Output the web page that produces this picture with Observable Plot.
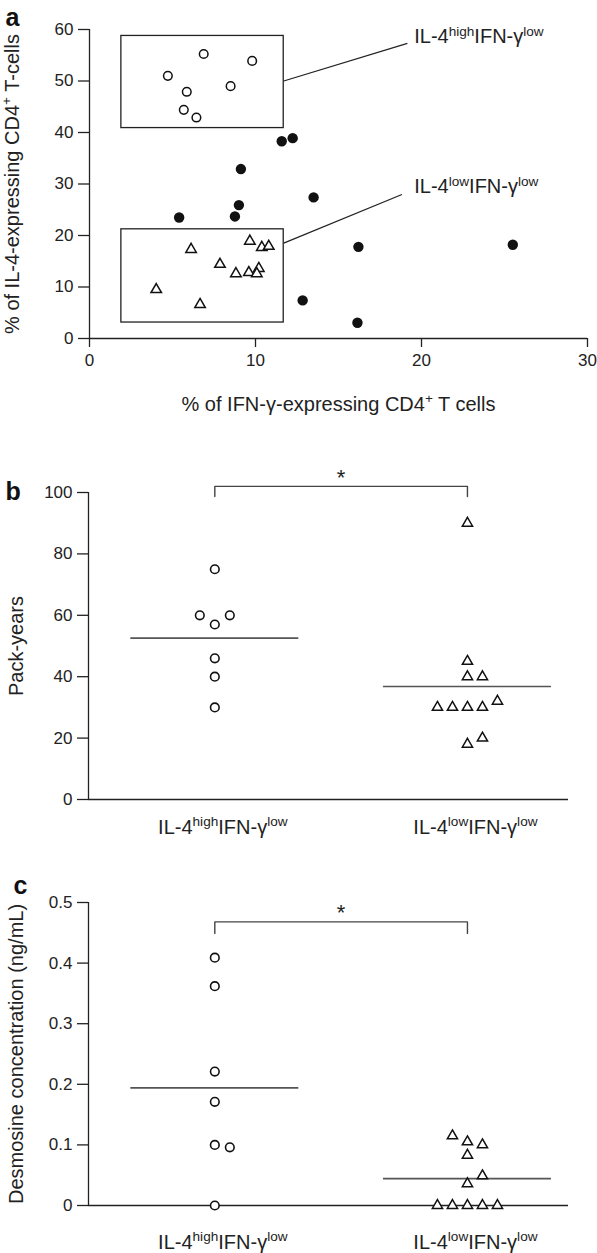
<!DOCTYPE html>
<html><head><meta charset="utf-8">
<script src="https://cdn.jsdelivr.net/npm/d3@7"></script>
<script src="https://cdn.jsdelivr.net/npm/@observablehq/plot@0.6"></script>
<style>
html,body{margin:0;padding:0;background:#fff;}
#wrap{width:597px;height:1253px;position:relative;overflow:hidden;}
#wrap .panel{position:absolute;left:0;}
#wrap svg{display:block;overflow:visible;}
</style></head><body><div id="wrap"></div>
<script>
// ---------- Panel a: % IFN-γ (x) vs % IL-4 (y) expressing CD4+ T cells ----------
const highIFN = [4.72, 6.88, 9.80, 5.86, 8.50, 5.68, 6.44];
const highIL4 = [51.0, 55.25, 53.9, 47.9, 49.0, 44.4, 42.9];
const lowIFN  = [9.66, 10.38, 10.8, 6.12, 7.86, 10.2, 9.6, 8.82, 10.08, 4.02, 6.66];
const lowIL4  = [18.9, 17.7, 17.9, 17.3, 14.4, 13.6, 12.8, 12.6, 12.6, 9.5, 6.6];
const otherIFN = [11.58, 12.24, 9.12, 13.5, 9.0, 8.76, 5.4, 12.84, 16.2, 25.5, 16.14];
const otherIL4 = [38.3, 38.9, 32.9, 27.4, 25.9, 23.7, 23.5, 7.4, 17.8, 18.2, 3.05];
const gateX = [1.92, 11.7];
const gateHighY = [40.86, 58.75];
const gateLowY = [3.1, 21.2];
const xTicksA = [0, 10, 20, 30];
const yTicksA = [0, 10, 20, 30, 40, 50, 60];
const groupLabels = ["IL-4^high^IFN-γ^low^", "IL-4^low^IFN-γ^low^"];
// callout label anchors (data units): [fromX, fromY, toX, toY, textX, textY]
const calloutHigh = [11.7, 50.0, 19.15, 57.3, 19.56, 58.6];
const calloutLow  = [11.7, 18.5, 18.82, 27.96, 19.56, 29.4];

// ---------- Panel b: pack-years ----------
const packHigh = [75, 57, 60, 60, 46, 40, 30];
const packLow  = [90, 45, 40, 40, 30, 30, 30, 32, 30, 18, 20];
const yTicksB = [0, 20, 40, 60, 80, 100];
const bracketB = [98.7, 102];
const starB = 104.7;

// ---------- Panel c: desmosine ----------
const desHigh = [0.409, 0.362, 0.221, 0.171, 0.100, 0.096, 0];
const desLow  = [0, 0, 0, 0, 0, 0.036, 0.049, 0.083, 0.100, 0.105, 0.115];
const yTicksC = [0, 0.1, 0.2, 0.3, 0.4, 0.5];
const bracketC = [0.449, 0.468];
const starC = 0.482;

const W = 597;
const ink = "#222";
const FONT = "'Liberation Sans', Arial, Helvetica, sans-serif";
const baseStyle = {fontFamily: FONT, fontSize: "17px", color: ink, background: "white", overflow: "visible"};
const ns = "http://www.w3.org/2000/svg";

function supify(svg) {
  svg.querySelectorAll("text").forEach(t => {
    const tsp = t.querySelectorAll("tspan");
    const targets = tsp.length ? [...tsp] : [t];
    targets.forEach(el => {
      const s = el.textContent;
      if (!s.includes("^")) return;
      const fs = parseFloat(getComputedStyle(el).fontSize) || 17;
      const parts = s.split("^");
      el.textContent = "";
      let raised = false;
      parts.forEach((p, i) => {
        if (!p) return;
        const ts = document.createElementNS(ns, "tspan");
        ts.textContent = p;
        if (i % 2 === 1) {
          ts.setAttribute("font-size", (fs * 0.68) + "px");
          if (!raised) { ts.setAttribute("dy", (-fs * 0.38) + "px"); raised = true; }
        } else if (raised) {
          ts.setAttribute("dy", (fs * 0.38) + "px"); raised = false;
        }
        el.appendChild(ts);
      });
    });
  });
}

function mount(svg, top) {
  const d = document.createElement("div");
  d.className = "panel";
  d.style.top = top + "px";
  d.appendChild(svg);
  document.getElementById("wrap").appendChild(d);
  supify(svg);
}

// ---------- Plot A ----------
const highPts = highIFN.map((x, i) => ({x, y: highIL4[i]}));
const lowPts = lowIFN.map((x, i) => ({x, y: lowIL4[i]}));
const otherPts = otherIFN.map((x, i) => ({x, y: otherIL4[i]}));
const gates = [
  {x1: gateX[0], x2: gateX[1], y1: gateHighY[0], y2: gateHighY[1]},
  {x1: gateX[0], x2: gateX[1], y1: gateLowY[0], y2: gateLowY[1]}
];
const callouts = [calloutHigh, calloutLow].map((c, i) => ({x1: c[0], y1: c[1], x2: c[2], y2: c[3], tx: c[4], ty: c[5], label: groupLabels[i]}));

const plotA = Plot.plot({
  width: W, height: 430,
  marginLeft: 89, marginRight: 10, marginTop: 29, marginBottom: 92,
  x: {domain: [0, 30]},
  y: {domain: [0, 60]},
  style: baseStyle,
  marks: [
    Plot.ruleX([0], {y1: 0, y2: 60, stroke: ink, strokeWidth: 1.3}),
    Plot.ruleY([0], {x1: 0, x2: 30, stroke: ink, strokeWidth: 1.3}),
    Plot.axisY({ticks: yTicksA, tickSize: 11, tickPadding: 5, label: null, fontSize: 17, strokeWidth: 1.3}),
    Plot.axisX({ticks: xTicksA, tickSize: 9, tickPadding: 6, label: null, fontSize: 17, strokeWidth: 1.3}),
    Plot.rect(gates, {x1: "x1", x2: "x2", y1: "y1", y2: "y2", fill: "none", stroke: ink, strokeWidth: 1.3}),
    Plot.link(callouts, {x1: "x1", y1: "y1", x2: "x2", y2: "y2", stroke: ink, strokeWidth: 1.3}),
    Plot.text(callouts, {x: "tx", y: "ty", text: "label", textAnchor: "start", fontSize: 20, fill: ink}),
    Plot.dot(otherPts, {x: "x", y: "y", r: 5.2, fill: "#111", stroke: "none"}),
    Plot.dot(highPts, {x: "x", y: "y", r: 4.3, fill: "white", stroke: "#111", strokeWidth: 1.5}),
    Plot.dot(lowPts, {x: "x", y: "y", r: 3.9, symbol: "triangle", fill: "white", stroke: "#111", strokeWidth: 1.5}),
    Plot.text(["% of IFN-γ-expressing CD4^+^ T cells"], {frameAnchor: "bottom", textAnchor: "middle", dy: 72, fontSize: 20, fill: ink}),
    Plot.text(["% of IL-4-expressing CD4^+^ T-cells"], {frameAnchor: "left", textAnchor: "middle", rotate: -90, dx: -77, fontSize: 20, fill: ink}),
    Plot.text(["a"], {frameAnchor: "top-left", textAnchor: "start", dx: -84, dy: -21, fontSize: 25, fontWeight: "bold", fill: "#111"})
  ]
});
mount(plotA, 0);

// ---------- group scatter panels ----------
function dodge(values, pxPerUnit, gapPx) {
  const placed = [];
  return values.map(v => {
    for (const s of [0, 1, -1, 2, -2, 3, -3, 4, -4]) {
      if (!placed.some(p => p.s === s && Math.abs(p.v - v) * pxPerUnit < gapPx)) {
        placed.push({s, v});
        return s;
      }
    }
    return 0;
  });
}

function groupPlot(cfg) {
  const {high, low, yDomain, yTicks, tickFormat, height, mt, mb, yTitle, bracket, starY, labelPad, letter, ldx, ldy} = cfg;
  const ml = 88, mr = 29;
  const xDomain = [0.5, 2.4];
  const pxY = (height - mt - mb) / (yDomain[1] - yDomain[0]);
  const pxX = (W - ml - mr) / (xDomain[1] - xDomain[0]);
  const pts = [];
  [[high, 1], [low, 2]].forEach(([vals, g]) => {
    const slots = dodge(vals, pxY, 12);
    vals.forEach((v, i) => pts.push({g, v, x: g + slots[i] * 15 / pxX}));
  });
  const half = 84 / pxX;
  const means = [1, 2].map(g => ({g, m: d3.mean(pts.filter(p => p.g === g), p => p.v)}));
  const br = [{x: 1, y: bracket[0]}, {x: 1, y: bracket[1]}, {x: 2, y: bracket[1]}, {x: 2, y: bracket[0]}];
  return Plot.plot({
    width: W, height,
    marginLeft: ml, marginRight: mr, marginTop: mt, marginBottom: mb,
    x: {domain: xDomain},
    y: {domain: yDomain},
    style: baseStyle,
    marks: [
      Plot.ruleX([xDomain[0]], {y1: yDomain[0], y2: yDomain[1], stroke: ink, strokeWidth: 1.3}),
      Plot.ruleY([yDomain[0]], {x1: xDomain[0], x2: xDomain[1], stroke: ink, strokeWidth: 1.3}),
      Plot.axisY({ticks: yTicks, tickFormat, tickSize: 11, tickPadding: 5, label: null, fontSize: 17, strokeWidth: 1.3}),
      Plot.axisX({ticks: [1, 2], tickFormat: g => groupLabels[g - 1], tickSize: 0, tickPadding: labelPad, label: null, fontSize: 20, dx: 8}),
      Plot.ruleY(means, {y: "m", x1: d => d.g - half, x2: d => d.g + half, stroke: "#555", strokeWidth: 1.6}),
      Plot.line(br, {x: "x", y: "y", stroke: "#444", strokeWidth: 1.4}),
      Plot.text(["*"], {x: 1.5, y: starY, fontSize: 22, fill: ink}),
      Plot.dot(pts.filter(p => p.g === 1), {x: "x", y: "v", r: 4.3, fill: "white", stroke: "#111", strokeWidth: 1.6}),
      Plot.dot(pts.filter(p => p.g === 2), {x: "x", y: "v", r: 3.8, symbol: "triangle", fill: "white", stroke: "#111", strokeWidth: 1.5}),
      Plot.text([yTitle], {frameAnchor: "left", textAnchor: "middle", rotate: -90, dx: -72, fontSize: 20, fill: ink}),
      Plot.text([letter], {frameAnchor: "top-left", textAnchor: "start", dx: ldx, dy: ldy, fontSize: 25, fontWeight: "bold", fill: "#111"})
    ]
  });
}

const plotB = groupPlot({
  high: packHigh, low: packLow, yDomain: [0, 100], yTicks: yTicksB, tickFormat: d => String(d),
  height: 430, mt: 62, mb: 61, yTitle: "Pack-years", bracket: bracketB, starY: starB, labelPad: 20,
  letter: "b", ldx: -83, ldy: -10
});
mount(plotB, 430);

const plotC = groupPlot({
  high: desHigh, low: desLow, yDomain: [0, 0.5], yTicks: yTicksC, tickFormat: d => d === 0 ? "0" : d.toFixed(1),
  height: 393, mt: 42, mb: 48, yTitle: "Desmosine concentration (ng/mL)", bracket: bracketC, starY: starC, labelPad: 29,
  letter: "c", ldx: -75, ldy: -26.5
});
mount(plotC, 860);
</script></body></html>
